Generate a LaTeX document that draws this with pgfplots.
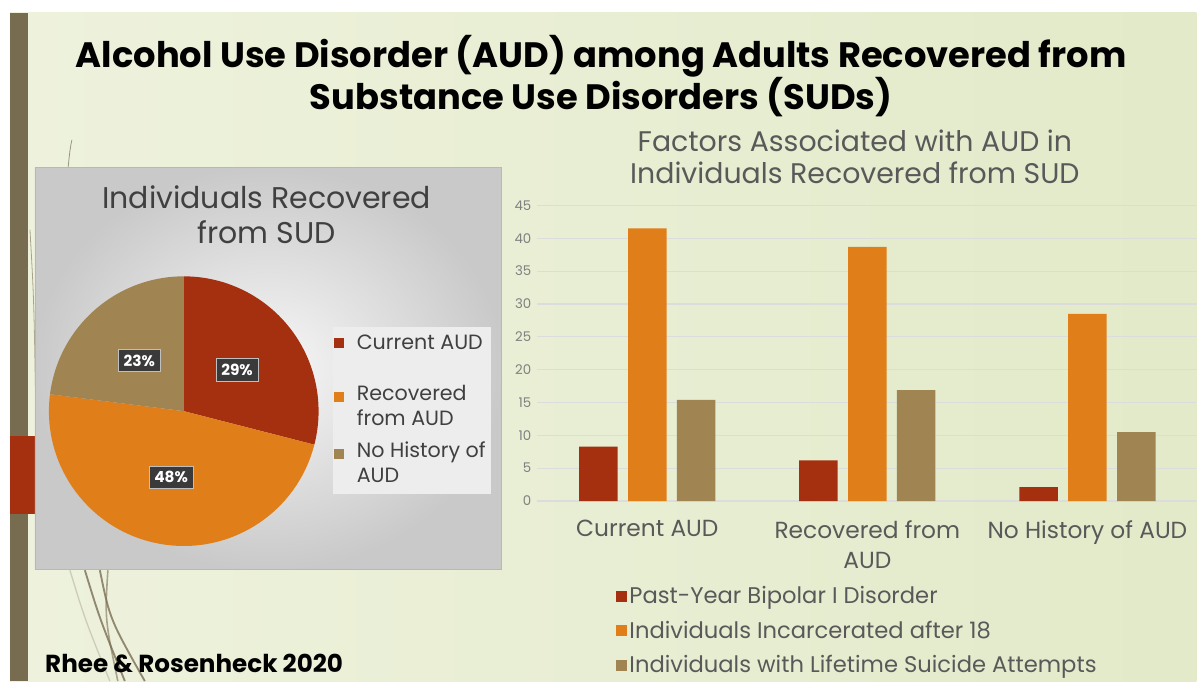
\documentclass[border=0pt]{standalone}
\usepackage{fontspec}
\setmainfont{Poppins}
\usepackage{pgfplots}
\pgfplotsset{compat=1.18}
\definecolor{audred}{HTML}{A5300F}
\definecolor{audorange}{HTML}{E07E1A}
\definecolor{audtan}{HTML}{A08552}
\definecolor{txtgray}{HTML}{595959}
\definecolor{darktxt}{HTML}{404040}
\definecolor{gridgray}{HTML}{DCDCDC}
\definecolor{olivebar}{HTML}{786C50}
\definecolor{bgL}{HTML}{EEF2DD}
\definecolor{bgM}{HTML}{F9FAF3}
\definecolor{bgR}{HTML}{E2EAC9}
\definecolor{labbox}{HTML}{3A3A3A}
\definecolor{deco}{HTML}{7A6E55}
\pgfplotsset{sqlegend/.style={legend image code/.code={\fill[##1] (-4.5pt,-4.1pt) rectangle (3.7pt,4.1pt);}}}
\begin{document}
\begin{tikzpicture}[x=0.75pt,y=0.75pt]
% canvas and slide background
\fill[white] (0,0) rectangle (1198,682);
\shade[left color=bgL, middle color=bgM, right color=bgR] (10,0) rectangle (1198,669);
\fill[olivebar] (10,0) rectangle (28,669);
\fill[audred] (10,{682-515}) rectangle (37,{682-437});
\coordinate (piecenter) at (184,{682-411.7});
\coordinate (barorigin) at (538,{682-501.7});
% decorative strokes
\draw[deco, line width=0.6pt, opacity=0.7] (72,{682-140}) .. controls (70,{682-150}) .. (68,{682-170});
\draw[deco, line width=0.6pt, opacity=0.6] (30,{682-230}) .. controls (34,{682-300}) .. (36,{682-420});
\draw[deco, line width=1.4pt, opacity=0.8] (85,{682-571}) .. controls (100,{682-620}) .. (125,{682-682});
\draw[deco, line width=1.4pt, opacity=0.8] (100,{682-571}) .. controls (110,{682-620}) .. (145,{682-682});
\draw[deco, line width=1.2pt, opacity=0.6] (108,{682-571}) .. controls (105,{682-620}) .. (118,{682-682});
\draw[deco!60, line width=1pt, opacity=0.5] (70,{682-571}) .. controls (85,{682-620}) .. (110,{682-682});
% main title
\node[font=\fontsize{26.5}{31.5}\selectfont\bfseries, align=center, text=black] at (602,{682-76}) {Alcohol Use Disorder (AUD) among Adults Recovered from\\Substance Use Disorders (SUDs)};
% citation
\node[font=\fontsize{18.5}{20}\selectfont\bfseries, anchor=base west, text=black, inner sep=0pt] at (45,{682-673}) {Rhee \& Rosenheck 2020};
% pie chart panel
\shade[inner color=white!97!black, outer color=white!79!black] (35,{682-570}) rectangle (502,{682-168});
\draw[white!72!black, line width=0.5pt] (35,{682-570}) rectangle (502,{682-168});
\node[font=\fontsize{22.5}{27}\selectfont, align=center, text=darktxt] at (267,{682-215}) {Individuals Recovered\\from SUD};
% pie legend
\fill[white!93!black] (333,{682-495}) rectangle (492,{682-327});
\begin{scope}[font=\fontsize{15.5}{19}\selectfont, text=darktxt]
\fill[audred] (334,{682-348}) rectangle (344,{682-338});
\node[anchor=west, inner sep=0pt] at (357,{682-343}) {Current AUD};
\fill[audorange] (334,{682-403}) rectangle (344,{682-393});
\node[anchor=north west, inner sep=0pt, align=left] at (357,{682-385}) {Recovered\\from AUD};
\fill[audtan] (334,{682-460}) rectangle (344,{682-450});
\node[anchor=north west, inner sep=0pt, align=left] at (357,{682-442}) {No History of\\AUD};
\end{scope}
% pie (values 29, 48, 23 percent)
\begin{axis}[at={(piecenter)}, anchor=center, scale only axis, width=202.5pt, height=202.5pt,
  xmin=-1, xmax=1, ymin=-1, ymax=1, hide axis, clip=false]
\pgfmathsetmacro{\aA}{90}
\pgfmathsetmacro{\aB}{\aA-29*3.6}
\pgfmathsetmacro{\aC}{\aB-48*3.6}
\pgfmathsetmacro{\aD}{\aC-23*3.6}
\fill[audred] (axis cs:0,0) -- ++(\aA:101.25pt) arc[start angle=\aA, end angle=\aB, radius=101.25pt] -- cycle;
\fill[audorange] (axis cs:0,0) -- ++(\aB:101.25pt) arc[start angle=\aB, end angle=\aC, radius=101.25pt] -- cycle;
\fill[audtan] (axis cs:0,0) -- ++(\aC:101.25pt) arc[start angle=\aC, end angle=\aD, radius=101.25pt] -- cycle;
\pgfmathsetmacro{\mA}{(\aA+\aB)/2}
\pgfmathsetmacro{\mB}{(\aB+\aC)/2}
\pgfmathsetmacro{\mC}{(\aC+\aD)/2}
\begin{scope}[every node/.style={fill=labbox, text=white, font=\fontsize{11.5}{13}\selectfont\bfseries, inner sep=4pt, draw=white!75!black, line width=0.4pt}]
\node at (axis cs:{0.5*cos(\mA)},{0.5*sin(\mA)}) {29\%};
\node at (axis cs:{0.5*cos(\mB)},{0.5*sin(\mB)}) {48\%};
\node at (axis cs:{0.5*cos(\mC)},{0.5*sin(\mC)}) {23\%};
\end{scope}
\end{axis}
% bar chart title
\node[font=\fontsize{21.3}{23.5}\selectfont, align=center, text=txtgray] at (856,{682-157}) {Factors Associated with AUD in\\Individuals Recovered from SUD};
% bar chart
\begin{axis}[at={(barorigin)}, anchor=south west, scale only axis,
  width=495.75pt, height=222pt,
  xmin=-0.5, xmax=2.5, ymin=0, ymax=45,
  ybar=7.8pt, bar width=28.9pt,
  xtick={0,1,2},
  xticklabels={Current AUD,{Recovered from\\AUD},No History of AUD},
  ytick={0,5,...,45},
  axis line style={draw=none},
  major tick length=0pt,
  ymajorgrids, grid style={draw=gridgray, line width=0.9pt},
  /pgf/number format/assume math mode=true,
  yticklabel style={font=\fontsize{10}{12}\selectfont, text=white!50!black, xshift=-1pt},
  xticklabel style={font=\fontsize{17.5}{22.5}\selectfont, text=txtgray, align=center, yshift=-11pt},
  legend style={at={(0.1126,-0.27)}, anchor=north west, draw=none, fill=none,
    font=\fontsize{17}{19}\selectfont, text=txtgray, row sep=7.5pt},
  legend cell align=left,
]
\addplot[fill=audred, draw=none, sqlegend] coordinates {(0,8.3) (1,6.2) (2,2.1)};
\addplot[fill=audorange, draw=none, sqlegend] coordinates {(0,41.5) (1,38.7) (2,28.5)};
\addplot[fill=audtan, draw=none, sqlegend] coordinates {(0,15.4) (1,16.9) (2,10.5)};
\legend{Past-Year Bipolar I Disorder, Individuals Incarcerated after 18, Individuals with Lifetime Suicide Attempts}
\end{axis}
\end{tikzpicture}
\end{document}
